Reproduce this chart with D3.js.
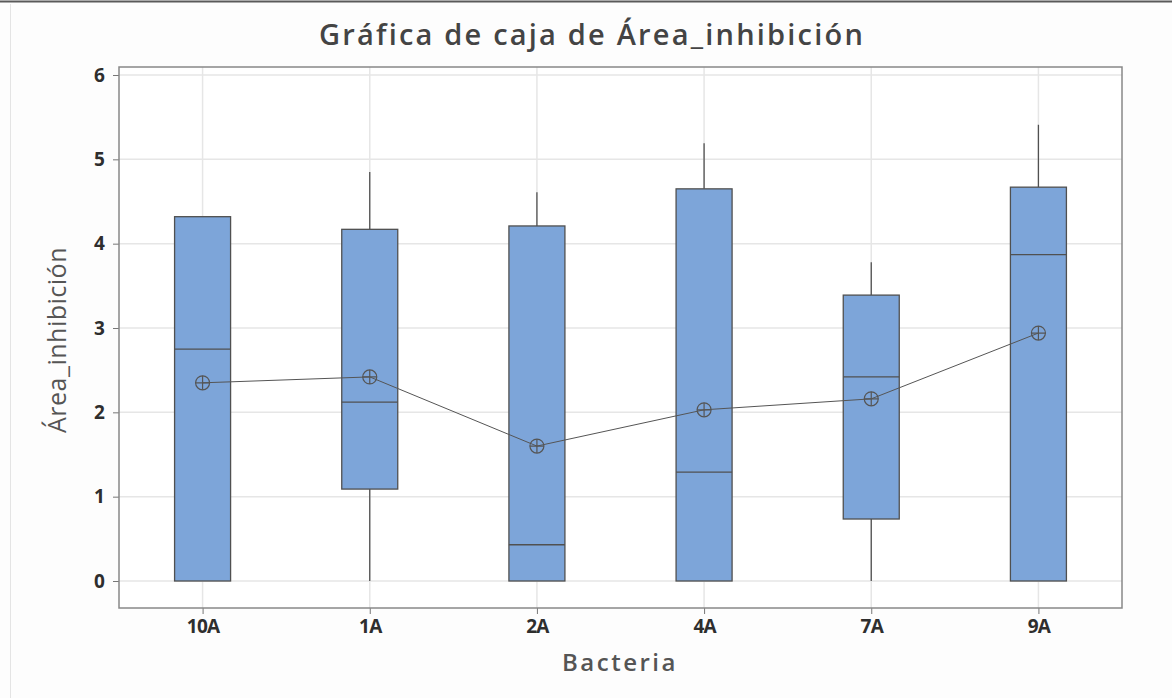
<!DOCTYPE html>
<html>
<head>
<meta charset="utf-8">
<script src="https://cdn.jsdelivr.net/npm/d3@7"></script>
<style>
  body { margin: 0; background: #fdfdfd; }
  svg { display: block; }
  text { font-family: "Open Sans", "Noto Sans", sans-serif; }
</style>
</head>
<body>
<svg id="chart"></svg>
<script>
// data
const categories = ["10A", "1A", "2A", "4A", "7A", "9A"];
const whiskerLow = [0, 0, 0, 0, 0, 0];
const q1 = [0, 1.09, 0, 0, 0.735, 0];
const medians = [2.75, 2.12, 0.43, 1.29, 2.42, 3.87];
const q3 = [4.32, 4.17, 4.21, 4.65, 3.39, 4.67];
const whiskerHigh = [4.32, 4.85, 4.61, 5.19, 3.78, 5.41];
const means = [2.35, 2.42, 1.60, 2.03, 2.16, 2.94];
const yTicks = [0, 1, 2, 3, 4, 5, 6];

// layout
const width = 1172;
const height = 698;
const plotLeft = 119;
const plotRight = 1122;
const plotTop = 67;
const plotBottom = 608;
const boxWidth = 56;

const svg = d3.select("#chart").attr("width", width).attr("height", height);

// frame line at the top and faint left border
svg.append("line")
  .attr("x1", 0).attr("x2", width).attr("y1", 1.5).attr("y2", 1.5)
  .attr("stroke", "#5a5a5a").attr("stroke-width", 2);
svg.append("line")
  .attr("x1", 10.5).attr("x2", 10.5).attr("y1", 4).attr("y2", height)
  .attr("stroke", "#e4e4e4").attr("stroke-width", 1);

svg.append("rect")
  .attr("x", plotLeft).attr("y", plotTop)
  .attr("width", plotRight - plotLeft).attr("height", plotBottom - plotTop)
  .attr("fill", "#ffffff");

const xScale = d3.scalePoint()
  .domain(categories)
  .range([plotLeft, plotRight])
  .padding(0.5);

const yScale = d3.scaleLinear()
  .domain([0, 6])
  .range([581, 75]);

// gridlines
svg.append("g")
  .selectAll("line")
  .data(yTicks)
  .enter()
  .append("line")
  .attr("x1", plotLeft).attr("x2", plotRight)
  .attr("y1", (d) => yScale(d)).attr("y2", (d) => yScale(d))
  .attr("stroke", "#e6e6e6").attr("stroke-width", 1.5);
svg.append("g")
  .selectAll("line")
  .data(categories)
  .enter()
  .append("line")
  .attr("x1", (d) => xScale(d)).attr("x2", (d) => xScale(d))
  .attr("y1", plotTop).attr("y2", plotBottom)
  .attr("stroke", "#e6e6e6").attr("stroke-width", 1.5);

// axes
const xAxis = d3.axisBottom(xScale).tickSizeInner(6).tickSizeOuter(0).tickPadding(6);
const xg = svg.append("g")
  .attr("transform", "translate(0," + plotBottom + ")")
  .call(xAxis);
xg.select(".domain").remove();

const yAxis = d3.axisLeft(yScale)
  .tickValues(yTicks)
  .tickFormat(d3.format("d"))
  .tickSizeInner(6).tickSizeOuter(0).tickPadding(9);
const yg = svg.append("g")
  .attr("transform", "translate(" + plotLeft + ",0)")
  .call(yAxis);
yg.select(".domain").remove();

svg.selectAll(".tick line").attr("stroke", "#777");
svg.selectAll(".tick text")
  .attr("fill", "#2e2e2e")
  .style("font-family", "'Open Sans', 'Noto Sans', sans-serif")
  .style("font-size", "19px")
  .style("font-weight", "700")
  .style("letter-spacing", "-0.8px");

// boxes
const boxes = categories.map((c, i) => ({
  cat: c,
  lo: whiskerLow[i],
  q1: q1[i],
  med: medians[i],
  q3: q3[i],
  hi: whiskerHigh[i],
  mean: means[i],
}));

const strokeCol = "#505050";

svg.append("g")
  .selectAll("line")
  .data(boxes)
  .enter()
  .append("line")
  .attr("x1", (d) => xScale(d.cat)).attr("x2", (d) => xScale(d.cat))
  .attr("y1", (d) => yScale(d.q3)).attr("y2", (d) => yScale(d.hi))
  .attr("stroke", strokeCol).attr("stroke-width", 1.3);
svg.append("g")
  .selectAll("line")
  .data(boxes)
  .enter()
  .append("line")
  .attr("x1", (d) => xScale(d.cat)).attr("x2", (d) => xScale(d.cat))
  .attr("y1", (d) => yScale(d.lo)).attr("y2", (d) => yScale(d.q1))
  .attr("stroke", strokeCol).attr("stroke-width", 1.3);

svg.append("g")
  .selectAll("rect")
  .data(boxes)
  .enter()
  .append("rect")
  .attr("x", (d) => xScale(d.cat) - boxWidth / 2)
  .attr("width", boxWidth)
  .attr("y", (d) => yScale(d.q3))
  .attr("height", (d) => yScale(d.q1) - yScale(d.q3))
  .attr("fill", "#7da5d9")
  .attr("stroke", strokeCol)
  .attr("stroke-width", 1.3);

svg.append("g")
  .selectAll("line")
  .data(boxes)
  .enter()
  .append("line")
  .attr("x1", (d) => xScale(d.cat) - boxWidth / 2)
  .attr("x2", (d) => xScale(d.cat) + boxWidth / 2)
  .attr("y1", (d) => yScale(d.med)).attr("y2", (d) => yScale(d.med))
  .attr("stroke", strokeCol).attr("stroke-width", 1.3);

// mean connect line
const meanLine = d3.line()
  .x((d) => xScale(d.cat))
  .y((d) => yScale(d.mean));
svg.append("path")
  .datum(boxes)
  .attr("d", meanLine)
  .attr("fill", "none")
  .attr("stroke", "#555")
  .attr("stroke-width", 1);

// mean symbols: circle with cross
const r = 7;
const meanG = svg.append("g")
  .selectAll("g")
  .data(boxes)
  .enter()
  .append("g")
  .attr("transform", (d) => "translate(" + xScale(d.cat) + "," + yScale(d.mean) + ")");
meanG.append("circle")
  .attr("r", r)
  .attr("fill", "none")
  .attr("stroke", "#555")
  .attr("stroke-width", 1.2);
meanG.append("path")
  .attr("d", "M" + -r + ",0H" + r + "M0," + -r + "V" + r)
  .attr("stroke", "#555")
  .attr("stroke-width", 1.2);

// plot frame
svg.append("rect")
  .attr("x", plotLeft).attr("y", plotTop)
  .attr("width", plotRight - plotLeft).attr("height", plotBottom - plotTop)
  .attr("fill", "none")
  .attr("stroke", "#888")
  .attr("stroke-width", 1.5);

// titles
svg.append("text")
  .attr("x", 592).attr("y", 45)
  .attr("text-anchor", "middle")
  .attr("fill", "#444")
  .style("font-size", "29px")
  .style("font-weight", "600")
  .style("letter-spacing", "2.2px")
  .text("Gráfica de caja de Área_inhibición");

svg.append("text")
  .attr("x", 620).attr("y", 671)
  .attr("text-anchor", "middle")
  .attr("fill", "#555")
  .style("font-size", "24px")
  .style("font-weight", "600")
  .style("letter-spacing", "2.5px")
  .text("Bacteria");

svg.append("text")
  .attr("transform", "translate(66,340) rotate(-90)")
  .attr("text-anchor", "middle")
  .attr("fill", "#555")
  .style("font-size", "25px")
  .style("font-weight", "500")
  .style("letter-spacing", "0.5px")
  .text("Área_inhibición");
</script>
</body>
</html>
